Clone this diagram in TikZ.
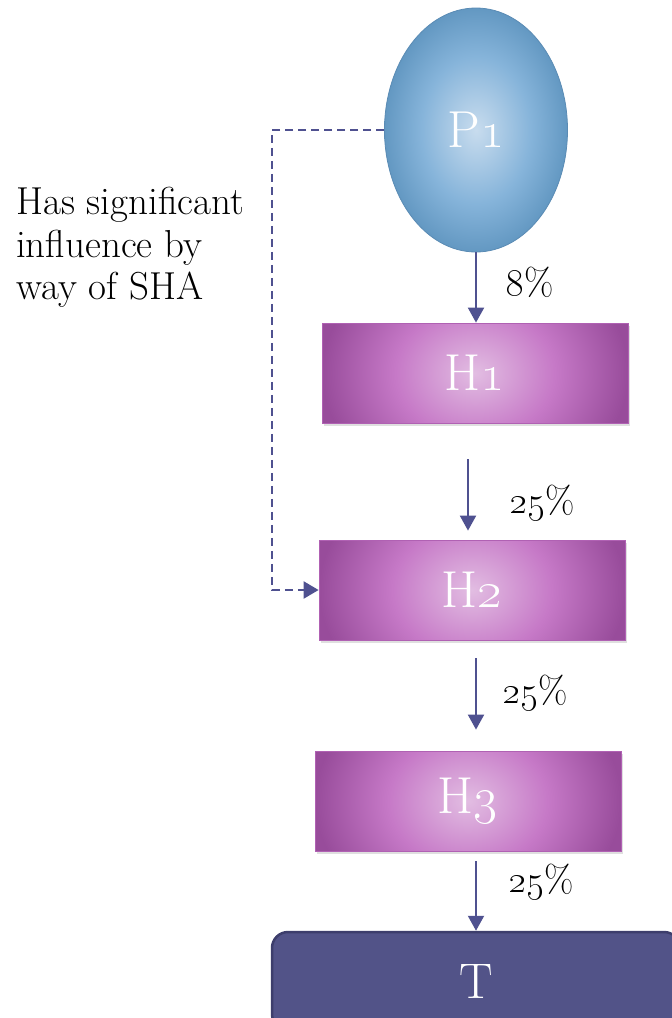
\RequirePackage{fix-cm}
\documentclass[tikz,border=0pt]{standalone}
\usetikzlibrary{arrows.meta,shapes.geometric,shadows,calc}

\definecolor{holdC}{HTML}{E2BDE2}
\definecolor{holdM}{HTML}{C679C7}
\definecolor{holdE}{HTML}{984C9B}
\definecolor{holdB}{HTML}{B061B3}
\definecolor{parC}{HTML}{C8DCEE}
\definecolor{parM}{HTML}{86B4DA}
\definecolor{parE}{HTML}{6398C2}
\definecolor{parB}{HTML}{5A8BB4}
\definecolor{tgtF}{HTML}{525388}
\definecolor{tgtB}{HTML}{3D3E6C}
\definecolor{flowC}{HTML}{4F5190}

\pgfdeclareradialshading{holdshade}{\pgfpointorigin}{%
  color(0bp)=(holdC); color(13bp)=(holdM); color(25bp)=(holdE); color(50bp)=(holdE)}
\pgfdeclareradialshading{parshade}{\pgfpointorigin}{%
  color(0bp)=(parC); color(15bp)=(parM); color(25bp)=(parE); color(50bp)=(parE)}

\begin{document}
\begin{tikzpicture}[x=1pt,y=-1pt,
  parent/.style={ellipse, draw=parB, line width=0.8pt, shading=parshade,
    minimum width=183pt, minimum height=244pt, inner sep=0pt,
    text=white, font=\fontsize{52}{56}\selectfont},
  holding/.style={rectangle, draw=holdB, line width=0.8pt,
    minimum width=306pt, minimum height=100pt, inner sep=0pt,
    text=white, font=\fontsize{52}{56}\selectfont,
    drop shadow={opacity=0.25, shadow xshift=1.5pt, shadow yshift=-3pt},
    path picture={\shade[shading=holdshade]
      ([xshift=-153pt,yshift=-125pt]path picture bounding box.center)
      rectangle ([xshift=153pt,yshift=125pt]path picture bounding box.center);}},
  target/.style={rectangle, rounded corners=16pt, draw=tgtB, line width=2.5pt,
    fill=tgtF, minimum width=408pt, minimum height=98pt, inner sep=0pt,
    text=white, font=\fontsize{50}{54}\selectfont},
  flow/.style={draw=flowC, line width=2pt,
    -{Triangle[width=16pt,length=15pt]}},
  sha/.style={draw=flowC, line width=2.3pt, dash pattern=on 8pt off 5pt,
    -{Triangle[width=17pt,length=15pt]}},
  pct/.style={font=\fontsize{38}{40}\selectfont, inner sep=0pt},
  note/.style={font=\fontsize{39}{42.5}\selectfont, align=left, inner sep=0pt,
    anchor=north west}
]
\useasboundingbox (0,0) rectangle (672,1018);
\clip (0,0) rectangle (672,1018);

% entities
\node[parent]  (p1) at (476,130) {P\oldstylenums{1}};
\node[holding] (h1) at (475,373) {H\oldstylenums{1}};
\node[holding] (h2) at (472,590) {H\oldstylenums{2}};
\node[holding] (h3) at (468,801) {H\oldstylenums{3}};
\node[target]  (t)  at (476,981) {T};

% ownership chain
\draw[flow] (p1.south) -- (p1.south |- h1.north);
\draw[flow, shorten <=36pt, shorten >=9pt]
  ([xshift=-7pt]h1.south) -- ([xshift=-7pt]h1.south |- h2.north);
\draw[flow, shorten <=18pt, shorten >=21pt]
  (h2.south -| t.north) -- (h3.north -| t.north);
\draw[flow, shorten <=10pt] (h3.south -| t.north) -- (t.north);

% percentages
\node[pct] (l1) at (530,282) {\oldstylenums{8}\%};
\node[pct] (l2) at (542,503) {\oldstylenums{25}\%};
\node[pct] (l3) at (535,693) {\oldstylenums{25}\%};
\node[pct] (l4) at (541,882) {\oldstylenums{25}\%};

% significant influence via SHA
\coordinate (bend) at (272,130);
\draw[sha] (p1.west) -- (bend) |- (h2.west);
\node[note] (n) at (16,187) {Has significant\\influence by\\way of SHA};
\end{tikzpicture}
\end{document}
